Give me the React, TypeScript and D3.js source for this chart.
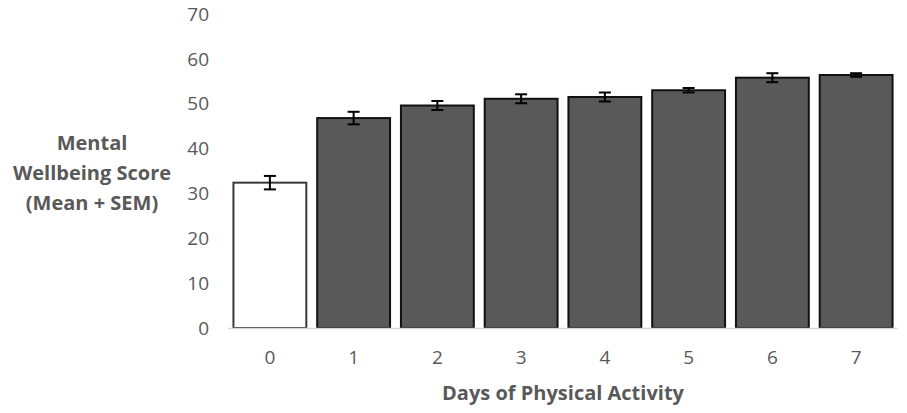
import { useMemo } from "react";
import * as d3 from "d3";

const W = 907;
const H = 413;

const days = ["0", "1", "2", "3", "4", "5", "6", "7"];
const means = [32.4, 46.8, 49.6, 51.1, 51.5, 53.0, 55.8, 56.4];
const sems = [1.5, 1.4, 1.0, 1.0, 1.0, 0.5, 1.0, 0.4];
const yTicks = [0, 10, 20, 30, 40, 50, 60, 70];

const BAR_DARK = "#595959";
const TICK_GREY = "#595959";
const AXIS_GREY = "#d9d9d9";
const FONT = "'Open Sans', 'Liberation Sans', sans-serif";

export default function App() {
  const x = useMemo(
    () => d3.scaleBand<string>().domain(days).range([228, 898]).paddingInner(0.13).paddingOuter(0.065),
    []
  );
  const y = useMemo(() => d3.scaleLinear().domain([0, 70]).range([328, 14]), []);

  return (
    <svg
      width={W}
      height={H}
      style={{ position: "absolute", left: 0, top: 0, background: "#fff" }}
      fontFamily={FONT}
    >
      {/* y tick labels */}
      {yTicks.map(t => (
        <text key={t} x={209} y={y(t)} dy="0.35em" textAnchor="end" fontSize={19} fill={TICK_GREY}>
          {t}
        </text>
      ))}

      {/* bars */}
      {days.map((d, i) => (
        <rect
          key={d}
          x={x(d)!}
          y={y(means[i])}
          width={x.bandwidth()}
          height={y(0) - y(means[i])}
          fill={i === 0 ? "#ffffff" : BAR_DARK}
          stroke={i === 0 ? "#3a3a3a" : "#111"}
          strokeWidth={2}
        />
      ))}

      {/* x axis line */}
      <line x1={228} x2={898} y1={y(0) + 0.5} y2={y(0) + 0.5} stroke={AXIS_GREY} strokeWidth={1.5} />

      {/* error bars */}
      {days.map((d, i) => {
        const cx = x(d)! + x.bandwidth() / 2;
        const hi = y(means[i] + sems[i]);
        const lo = y(means[i] - sems[i]);
        return (
          <g key={d} stroke="#000" strokeWidth={2}>
            <line x1={cx} x2={cx} y1={hi} y2={lo} />
            <line x1={cx - 6} x2={cx + 6} y1={hi} y2={hi} />
            <line x1={cx - 6} x2={cx + 6} y1={lo} y2={lo} />
          </g>
        );
      })}

      {/* x tick labels */}
      {days.map(d => (
        <text key={d} x={x(d)! + x.bandwidth() / 2} y={357} dy="0.35em" textAnchor="middle" fontSize={19} fill={TICK_GREY}>
          {d}
        </text>
      ))}

      {/* axis titles */}
      <text x={563} y={393} dy="0.35em" textAnchor="middle" fontSize={20} fontWeight={700} fill={TICK_GREY}>
        Days of Physical Activity
      </text>
      <g fontSize={20} fontWeight={700} fill={TICK_GREY} textAnchor="middle">
        <text x={92} y={143} dy="0.35em">Mental</text>
        <text x={92} y={173} dy="0.35em">Wellbeing Score</text>
        <text x={92} y={203} dy="0.35em">(Mean + SEM)</text>
      </g>
    </svg>
  );
}
